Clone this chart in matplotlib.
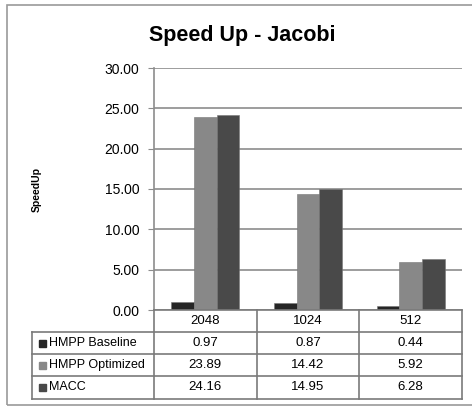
import matplotlib
matplotlib.use("Agg")
import matplotlib.pyplot as plt
from matplotlib.patches import Rectangle
from matplotlib.lines import Line2D

categories = ["2048", "1024", "512"]
series = ["HMPP Baseline", "HMPP Optimized", "MACC"]
baseline = [0.97, 0.87, 0.44]
optimized = [23.89, 14.42, 5.92]
macc = [24.16, 14.95, 6.28]
values = [baseline, optimized, macc]
colors = ["#262626", "#888888", "#494949"]

W, H = 472, 407
plt.rcParams["font.family"] = ["Liberation Sans", "DejaVu Sans"]
fig = plt.figure(figsize=(W / 100, H / 100), dpi=100)


def fx(px):
    return px / W


def fy(py):
    return 1 - py / H


# outer frame
fig.add_artist(Rectangle((fx(7), fy(405)), 1.0, fy(5) - fy(405), transform=fig.transFigure,
                         fill=False, edgecolor="#9a9a9a", lw=1.2))

left, right, top, bottom = 154, 462, 68, 310
ax = fig.add_axes([fx(left), fy(bottom), fx(right - left), fy(top) - fy(bottom)])

bw = 0.22
for i, (vals, c) in enumerate(zip(values, colors)):
    xs = [k + (i - 1) * bw for k in range(len(categories))]
    ax.bar(xs, vals, width=bw, color=c, edgecolor="#777777", lw=0.4, zorder=3)

ax.set_xlim(-0.5, len(categories) - 0.5)
ax.set_ylim(0, 30)
ax.set_yticks(range(0, 31, 5))
ax.set_yticklabels([f"{v:.2f}" for v in range(0, 31, 5)], fontsize=10)
ax.set_xticks([])
ax.grid(axis="y", color="#8c8c8c", lw=1.2, zorder=0)
for s in ["top", "right", "bottom"]:
    ax.spines[s].set_visible(False)
ax.spines["left"].set_color("#8c8c8c")
ax.spines["left"].set_linewidth(1.2)
ax.tick_params(axis="y", length=4, color="#8c8c8c", pad=6.5)

fig.text(fx(242), fy(35), "Speed Up - Jacobi", ha="center", va="center",
         fontsize=15.5, fontweight="bold")
fig.text(fx(37), fy(190), "SpeedUp", ha="center", va="center", rotation=90,
         fontsize=7.5, fontweight="bold")

# data table under the plot
col_edges = [left + k * (right - left) / len(categories) for k in range(len(categories) + 1)]
row_edges = [310, 332, 354, 376, 399]
tab_left = 32
lc = "#7a7a7a"


def hline(y, x0, x1):
    fig.add_artist(Line2D([fx(x0), fx(x1)], [fy(y), fy(y)], transform=fig.transFigure,
                          color=lc, lw=1.2))


def vline(x, y0, y1):
    fig.add_artist(Line2D([fx(x), fx(x)], [fy(y0), fy(y1)], transform=fig.transFigure,
                          color=lc, lw=1.2))


hline(row_edges[0], left, right)
for y in row_edges[1:]:
    hline(y, tab_left, right)
vline(tab_left, row_edges[1], row_edges[-1])
for x in col_edges:
    vline(x, row_edges[0], row_edges[-1])

for k, cat in enumerate(categories):
    cx = (col_edges[k] + col_edges[k + 1]) / 2
    cy = (row_edges[0] + row_edges[1]) / 2
    fig.text(fx(cx), fy(cy), cat, ha="center", va="center", fontsize=9.5)

for r, (name, vals, c) in enumerate(zip(series, values, colors)):
    cy = (row_edges[r + 1] + row_edges[r + 2]) / 2
    fig.add_artist(Rectangle((fx(39), fy(cy + 3.5)), fx(7), fy(cy - 3.5) - fy(cy + 3.5),
                             transform=fig.transFigure, color=c))
    fig.text(fx(49), fy(cy), name, ha="left", va="center", fontsize=9)
    for k, v in enumerate(vals):
        cx = (col_edges[k] + col_edges[k + 1]) / 2
        fig.text(fx(cx), fy(cy), f"{v:.2f}", ha="center", va="center", fontsize=9.5)

fig.savefig("out.png", dpi=100)
